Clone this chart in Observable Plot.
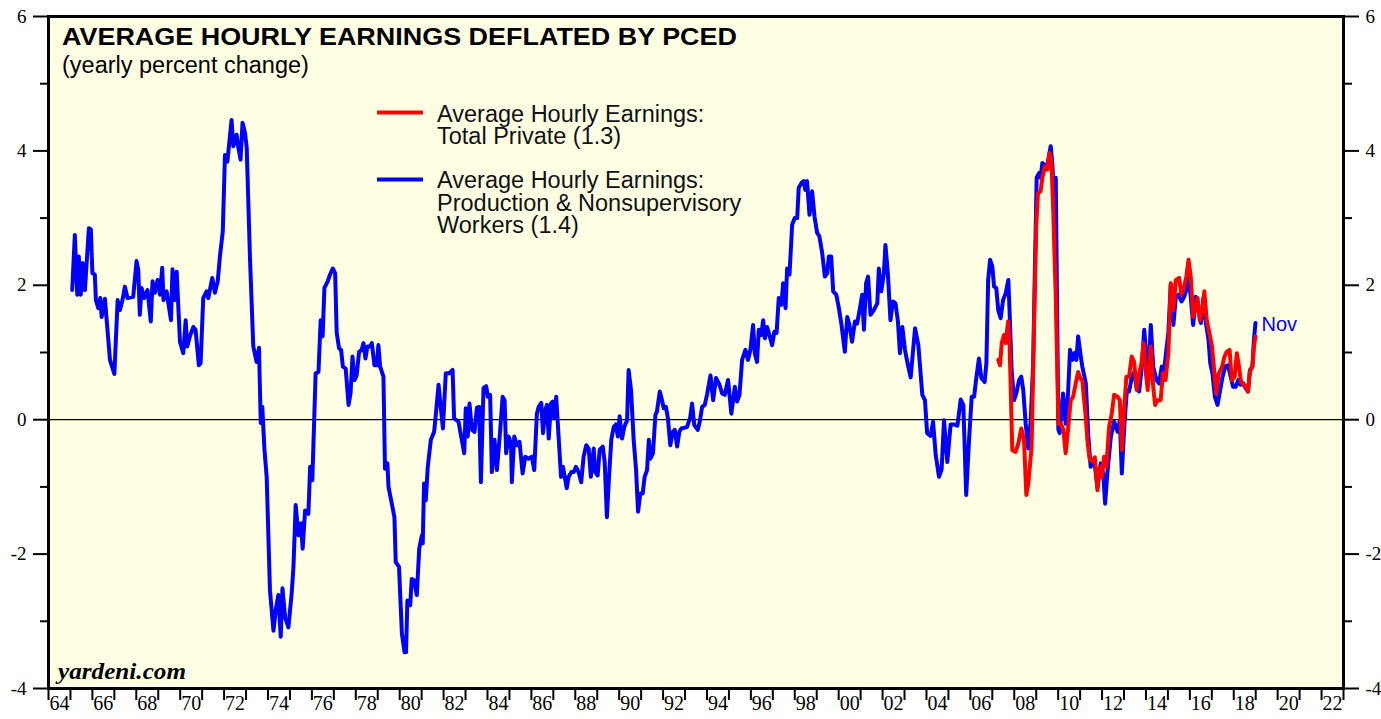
<!DOCTYPE html>
<html><head><meta charset="utf-8">
<script src="https://cdn.jsdelivr.net/npm/d3@7"></script>
<script src="https://cdn.jsdelivr.net/npm/@observablehq/plot@0.6"></script>
<style>
html,body{margin:0;padding:0;background:#fff;}
#chart svg{display:block;}
</style></head><body><div id="chart"></div>
<script>
// Production & Nonsupervisory Workers (blue)
const prodYears = [
1965.08,1965.2,1965.31,1965.38,1965.47,1965.56,1965.66,1965.84,1965.93,1966.0,1966.11,1966.16,1966.27,1966.36,1966.42,1966.57,1966.8,1967.0,1967.15,1967.25,1967.37,1967.48,1967.6,1967.86,1968.01,1968.09,1968.16,1968.24,1968.36,1968.51,1968.66,1968.74,1968.85,1968.97,1969.08,1969.18,1969.24,1969.38,1969.58,1969.65,1969.76,1969.84,1969.99,1970.14,1970.25,1970.32,1970.44,1970.6,1970.7,1970.85,1970.93,1971.05,1971.2,1971.28,1971.46,1971.58,1971.71,1971.81,1971.94,1972.04,1972.15,1972.34,1972.42,1972.57,1972.65,1972.75,1972.84,1972.95,1973.03,
1973.18,1973.33,1973.48,1973.59,1973.67,1973.74,1973.84,1973.94,1974.09,1974.25,1974.35,1974.47,1974.58,1974.66,1974.78,1974.93,1975.08,1975.16,1975.26,1975.39,1975.5,1975.58,1975.69,1975.84,1975.92,1976.02,1976.17,1976.3,1976.4,1976.49,1976.57,1976.72,1976.83,1976.95,1977.06,1977.13,1977.24,1977.33,1977.41,1977.54,1977.67,1977.76,1977.85,1977.94,1978.04,1978.15,1978.27,1978.35,1978.44,1978.53,1978.65,1978.73,1978.85,1978.96,1979.03,1979.11,1979.26,1979.33,1979.44,1979.49,1979.64,1979.76,1979.82,1979.97,1980.1,1980.22,1980.29,1980.35,1980.48,1980.55,1980.66,1980.78,1980.89,1981.01,1981.05,1981.11,1981.19,1981.28,1981.42,1981.57,1981.65,1981.77,1981.84,1981.97,1982.1,1982.25,1982.41,1982.48,1982.68,
1982.94,1983.01,1983.1,1983.18,1983.29,1983.41,1983.52,1983.62,1983.7,1983.82,1983.94,1984.02,1984.12,1984.2,1984.32,1984.43,1984.58,1984.69,1984.78,1984.85,1984.96,1985.07,1985.11,1985.22,1985.34,1985.46,1985.6,1985.72,1985.87,1986.02,1986.13,1986.25,1986.33,1986.45,1986.53,1986.63,1986.71,1986.79,1986.89,1986.97,1987.04,1987.13,1987.24,1987.35,1987.44,1987.52,1987.61,1987.7,1987.82,1987.93,1988.03,1988.15,1988.27,1988.38,1988.5,1988.61,1988.71,1988.84,1988.91,1989.02,1989.11,1989.25,1989.34,1989.44,1989.52,1989.64,1989.75,1989.85,1989.94,1990.02,1990.13,1990.23,1990.36,1990.43,1990.54,1990.66,1990.77,1990.86,1990.96,1991.07,1991.16,1991.27,1991.35,1991.42,1991.54,1991.65,1991.72,1991.85,1991.95,1992.03,1992.13,1992.22,1992.33,1992.44,1992.53,1992.64,1992.74,1992.83,
1993.09,1993.24,1993.32,1993.42,1993.58,1993.67,1993.78,1993.9,1994.0,1994.16,1994.28,1994.41,1994.57,1994.69,1994.81,1994.96,1995.11,1995.27,1995.37,1995.48,1995.6,1995.75,1995.87,1995.98,1996.1,1996.18,1996.28,1996.36,1996.47,1996.56,1996.64,1996.74,1996.86,1996.97,1997.07,1997.17,1997.27,1997.39,1997.47,1997.58,1997.65,1997.76,1997.88,1998.0,1998.11,1998.18,1998.3,1998.41,1998.48,1998.56,1998.67,1998.79,1998.9,1999.02,1999.12,1999.25,1999.37,1999.48,1999.55,1999.66,1999.75,1999.89,2000.01,2000.13,2000.28,2000.39,2000.49,2000.61,2000.74,2000.84,2000.97,2001.07,2001.15,2001.25,2001.34,2001.45,2001.6,2001.76,2001.83,2001.94,2002.06,2002.13,2002.24,2002.36,2002.47,2002.59,2002.7,2002.79,2002.9,
2003.02,2003.12,2003.28,2003.48,2003.63,2003.81,2003.93,2004.03,2004.19,2004.3,2004.42,2004.57,2004.69,2004.8,2004.95,2005.1,2005.26,2005.41,2005.56,2005.68,2005.81,2005.94,2006.06,2006.17,2006.27,2006.39,2006.5,2006.65,2006.73,2006.81,2006.9,2007.0,2007.08,2007.18,2007.27,2007.38,2007.49,2007.61,2007.73,2007.79,2007.88,2007.99,2008.09,2008.22,2008.32,2008.41,2008.52,2008.64,2008.75,2008.86,2008.93,2009.02,2009.13,2009.2,2009.28,2009.4,2009.51,2009.58,2009.66,2009.73,2009.81,2009.89,2010.01,2010.07,2010.15,2010.22,2010.34,2010.45,2010.54,2010.65,2010.75,2010.83,2010.91,2011.03,
2011.1,2011.26,2011.37,2011.48,2011.64,2011.79,2011.94,2012.05,2012.14,2012.24,2012.4,2012.55,2012.71,2012.81,2012.9,2013.01,2013.13,2013.23,2013.35,2013.46,2013.58,2013.69,2013.81,2013.92,2014.02,2014.1,2014.22,2014.33,2014.48,2014.6,2014.72,2014.83,2014.93,2015.02,2015.13,2015.25,2015.36,2015.48,2015.62,2015.74,2015.84,2015.94,2016.04,2016.15,2016.27,2016.39,2016.5,2016.62,2016.73,2016.85,2016.93,2017.03,2017.14,2017.26,2017.38,2017.49,2017.61,2017.74,2017.86,2017.97,2018.09,2018.21,2018.31,2018.43,2018.54,2018.65,2018.74,2018.85,2018.92,2018.99
];
const prodValues = [
1.93,2.75,1.86,2.43,1.86,2.33,1.93,2.85,2.83,2.18,2.16,1.78,1.66,1.81,1.53,1.80,0.89,0.68,1.78,1.63,1.78,1.98,1.81,1.83,2.36,2.23,1.56,1.96,1.81,1.93,1.46,2.06,1.89,2.08,1.86,2.26,1.78,1.91,1.48,2.24,1.78,2.20,1.16,0.99,1.48,1.09,1.24,1.38,1.34,0.81,0.84,1.81,1.91,1.81,2.11,1.89,2.06,2.43,2.80,3.94,3.84,4.46,4.07,4.24,4.05,3.87,4.42,4.27,4.05,
2.40,1.09,0.86,1.07,-0.05,0.19,-0.45,-0.85,-2.54,-3.14,-2.84,-2.61,-3.23,-2.51,-2.94,-3.09,-2.58,-2.19,-1.27,-1.72,-1.54,-1.92,-1.35,-1.40,-0.70,-0.90,0.69,0.71,1.48,1.24,1.96,2.06,2.16,2.25,2.18,1.29,1.06,1.04,0.79,0.76,0.22,0.39,0.94,0.59,0.66,1.01,1.04,1.14,0.91,1.09,1.09,1.14,0.81,0.81,1.11,0.79,0.64,-0.73,-0.65,-1.00,-1.25,-1.45,-2.12,-2.19,-3.18,-3.46,-3.46,-2.69,-2.76,-2.37,-2.39,-2.61,-1.92,-1.72,-1.84,-0.95,-1.20,-0.70,-0.30,-0.18,0.09,0.52,0.29,-0.13,0.69,0.69,0.74,0.02,-0.03,
-0.50,0.17,-0.25,0.24,-0.15,-0.18,0.18,0.19,-0.93,0.47,0.50,0.34,0.37,-0.78,-0.30,-0.75,-0.15,0.34,0.29,-0.50,-0.25,-0.35,-0.93,-0.25,-0.38,-0.33,-0.80,-0.55,-0.58,-0.55,-0.75,0.09,0.19,0.25,-0.20,0.14,0.22,-0.28,0.24,0.27,0.02,0.34,-0.25,-0.85,-0.70,-0.85,-1.02,-0.85,-0.78,-0.78,-0.70,-0.78,-0.93,-0.55,-0.38,-0.43,-0.85,-0.43,-0.78,-0.83,-0.45,-0.40,-0.63,-1.45,-0.95,-0.30,-0.11,-0.07,-0.25,0.05,-0.28,-0.11,-0.01,0.74,0.44,-0.30,-0.75,-1.37,-1.10,-1.10,-0.85,-0.75,-0.30,-0.58,-0.50,0.07,0.12,0.42,0.29,0.17,0.19,0.02,-0.38,-0.18,-0.15,-0.40,-0.18,-0.13,
-0.11,0.04,0.24,-0.08,-0.15,-0.03,0.19,0.22,0.37,0.66,0.29,0.62,0.52,0.39,0.37,0.59,0.09,0.49,0.27,0.37,0.89,1.04,0.89,1.04,1.41,0.99,0.86,1.34,1.26,1.48,1.21,1.38,1.24,1.11,1.31,1.29,1.81,1.71,2.03,1.66,2.25,2.16,2.90,3.00,3.00,3.45,3.52,3.55,3.42,3.55,3.05,3.40,3.02,2.78,2.73,2.48,2.13,2.18,2.43,2.43,1.91,1.86,1.66,1.41,1.01,1.53,1.41,1.16,1.46,1.43,1.66,1.86,1.34,2.03,2.13,1.56,1.63,1.73,2.25,1.91,2.18,2.60,2.18,1.48,1.76,1.73,1.46,0.99,1.38,
1.04,0.87,0.63,1.36,1.11,0.37,0.29,-0.20,-0.24,-0.03,-0.52,-0.85,-0.74,-0.01,-0.63,-0.07,-0.07,-0.09,0.30,0.22,-1.12,-0.30,0.34,0.34,0.62,0.91,0.62,0.56,0.84,2.08,2.38,2.28,1.98,1.96,1.63,1.51,1.78,1.88,2.08,1.58,0.74,0.29,0.39,0.59,0.64,0.44,-0.06,-0.43,-0.01,0.84,2.08,3.60,3.67,3.60,3.82,3.79,3.79,3.92,4.07,3.82,3.37,3.60,-0.15,-0.20,0.14,0.39,-0.06,0.39,1.04,0.89,0.99,0.89,1.24,0.94,
0.79,0.54,-0.23,-0.70,-0.60,-1.00,-0.65,-0.80,-1.25,-0.80,-0.25,-0.03,-0.18,-0.01,-0.80,-0.11,0.44,0.42,0.62,0.71,0.47,0.42,0.79,1.34,0.94,0.54,1.41,0.79,0.59,0.54,0.79,0.74,1.04,1.29,2.01,1.41,1.83,1.86,1.76,1.83,1.93,2.13,1.83,1.41,1.83,1.63,1.44,1.81,1.44,1.19,0.84,0.69,0.34,0.22,0.44,0.64,0.79,0.81,0.64,0.49,0.49,0.59,0.52,0.54,0.47,0.42,0.74,0.79,1.19,1.44
];
// Total Private (red)
const totalYears = [
2007.27,2007.35,2007.43,2007.53,2007.61,2007.72,2007.79,2007.91,2008.06,2008.19,2008.32,2008.44,2008.55,2008.64,2008.79,2008.9,2009.0,2009.08,2009.2,2009.28,2009.4,2009.51,2009.6,2009.69,2009.78,2009.89,2010.01,2010.12,2010.24,2010.34,2010.45,2010.57,2010.68,2010.8,2010.91,2011.0,2011.1,2011.25,2011.33,2011.43,2011.56,2011.67,2011.79,2011.9,2011.99,2012.09,2012.2,2012.32,2012.44,2012.55,2012.71,2012.81,2012.9,2013.01,2013.11,2013.23,2013.35,2013.46,2013.58,2013.69,2013.8,2013.89,2014.0,2014.08,2014.22,2014.33,2014.42,2014.52,2014.67,2014.77,2014.89,2015.02,2015.13,2015.25,2015.36,2015.51,2015.62,2015.74,2015.84,2015.94,2016.04,2016.15,2016.27,2016.35,2016.45,2016.55,2016.66,2016.77,2016.89,2017.01,2017.12,2017.2,2017.32,2017.47,2017.58,2017.68,2017.81,2017.91,2018.04,2018.14,2018.23,2018.33,2018.45,2018.54,2018.65,2018.73,2018.85,2018.92,2018.99
];
const totalValues = [
0.89,0.81,1.14,1.26,1.14,1.46,1.09,-0.45,-0.48,-0.35,-0.13,-0.28,-1.12,-0.95,-0.40,1.34,2.87,3.37,3.40,3.60,3.77,3.72,3.97,3.87,3.07,1.83,-0.06,-0.06,-0.15,-0.50,-0.15,0.29,0.34,0.54,0.71,0.62,0.58,0.07,-0.30,-0.58,-0.62,-0.56,-1.05,-0.70,-0.85,-0.55,-0.70,-0.11,0.09,0.37,0.34,0.29,-0.45,0.19,0.64,0.64,0.94,0.86,0.44,0.69,0.84,1.14,0.69,0.44,1.09,0.49,0.22,0.29,0.29,0.69,0.59,0.99,2.03,1.63,2.08,2.11,1.86,1.98,2.13,2.38,2.13,1.53,1.68,1.81,1.48,1.58,1.91,1.48,1.29,1.09,0.69,0.39,0.69,0.79,0.94,1.01,1.04,0.59,0.64,0.99,0.81,0.56,0.52,0.49,0.42,0.71,0.79,1.09,1.24
];
const yMajorTicks = [-4, -2, 0, 2, 4, 6];
const yMinorTicks = [-3, -1, 1, 3, 5];
const xTickYears = d3.range(1964, 2024);
const xLabelYears = d3.range(1964, 2023, 2);
const titleText = "AVERAGE HOURLY EARNINGS DEFLATED BY PCED";
const subtitleText = "(yearly percent change)";
const legendRed = ["Average Hourly Earnings:", "Total Private (1.3)"];
const legendBlue = ["Average Hourly Earnings:", "Production & Nonsupervisory", "Workers (1.4)"];
const lastLabel = "Nov";
const sourceText = "yardeni.com";

const prod = prodYears.map((t, i) => ({t, v: prodValues[i]}));
const total = totalYears.map((t, i) => ({t, v: totalValues[i]}));

const serif = "'Liberation Serif', 'Times New Roman', Times, serif";
const sans = "'Liberation Sans', Arial, Helvetica, sans-serif";
const BLUE = "#0000ff", RED = "#ff0000";

const yAxisOpts = {tickSize: 15, tickPadding: 7, strokeWidth: 2, tickFormat: d => String(d), fontSize: 19, fontFamily: serif, fill: "black", stroke: "black"};
const yMinorOpts = {tickSize: 8, strokeWidth: 2, fill: "none", stroke: "black"};

const plot = Plot.plot({
  width: 1381, height: 719,
  marginLeft: 48, marginRight: 38, marginTop: 16, marginBottom: 31,
  style: {background: "white", fontFamily: sans, color: "black"},
  x: {domain: [1964, 2023], axis: null, label: null},
  y: {domain: [-4, 6], axis: null, label: null},
  marks: [
    Plot.frame({fill: "#ffffe3"}),
    Plot.ruleY([0], {stroke: "black", strokeWidth: 1.2}),
    Plot.line(prod, {x: "t", y: "v", stroke: BLUE, strokeWidth: 4, strokeLinejoin: "round", strokeLinecap: "round"}),
    Plot.line(total, {x: "t", y: "v", stroke: RED, strokeWidth: 4, strokeLinejoin: "round", strokeLinecap: "round"}),
    Plot.text(prod.slice(-1), {x: "t", y: "v", text: () => lastLabel, dx: 6, dy: 2, textAnchor: "start", fill: BLUE, fontSize: 20, fontFamily: sans}),
    Plot.axisY(yMajorTicks, {anchor: "left", ...yAxisOpts, textAnchor: "end"}),
    Plot.axisY(yMinorTicks, {anchor: "left", ...yMinorOpts}),
    Plot.axisY(yMajorTicks, {anchor: "right", ...yAxisOpts, textAnchor: "start"}),
    Plot.axisY(yMinorTicks, {anchor: "right", ...yMinorOpts}),
    Plot.axisX(xTickYears, {anchor: "bottom", tickSize: 12, strokeWidth: 2, fill: "none", stroke: "black"}),
    Plot.text(xLabelYears, {x: d => d + 0.5, frameAnchor: "bottom", dy: 21, text: d => String(d % 100).padStart(2, "0"), fontSize: 20, fontFamily: serif, fill: "black"}),
    Plot.frame({stroke: "black", strokeWidth: 3})
  ]
});

const svg = d3.select(plot);
const ann = svg.append("g").attr("font-family", sans).attr("fill", "black").attr("text-anchor", "start");
ann.append("text").attr("x", 62).attr("y", 45).attr("font-size", 24).attr("font-weight", "bold")
  .attr("textLength", 675).attr("lengthAdjust", "spacingAndGlyphs").text(titleText);
ann.append("text").attr("x", 62).attr("y", 73).attr("font-size", 23.5).text(subtitleText);

const leg = svg.append("g").attr("font-family", sans).attr("font-size", 23.5).attr("fill", "#111").attr("text-anchor", "start");
leg.append("line").attr("x1", 377).attr("x2", 423).attr("y1", 112.5).attr("y2", 112.5).attr("stroke", RED).attr("stroke-width", 4);
legendRed.forEach((s, i) => leg.append("text").attr("x", 437).attr("y", 121.7 + i * 22.6).text(s));
leg.append("line").attr("x1", 377).attr("x2", 423).attr("y1", 179.5).attr("y2", 179.5).attr("stroke", BLUE).attr("stroke-width", 4);
legendBlue.forEach((s, i) => leg.append("text").attr("x", 437).attr("y", 188.3 + i * 22.5).text(s));

svg.append("text").attr("x", 58).attr("y", 679).attr("font-family", serif).attr("font-size", 24)
  .attr("font-weight", "bold").attr("font-style", "italic").attr("text-anchor", "start")
  .attr("textLength", 128).attr("lengthAdjust", "spacingAndGlyphs")
  .attr("fill", "black").text(sourceText);

document.getElementById("chart").appendChild(plot);
</script>
</body></html>
